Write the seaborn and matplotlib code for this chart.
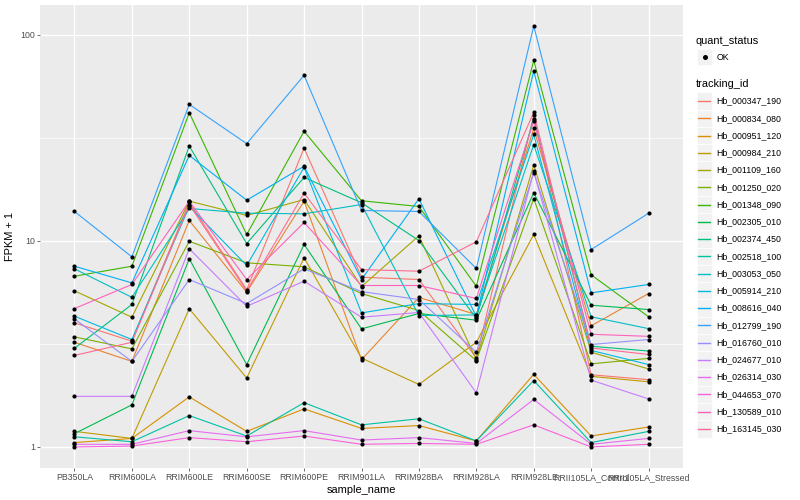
import pandas as pd
import matplotlib
matplotlib.use("Agg")
import matplotlib.pyplot as plt
from matplotlib.patches import Rectangle
from matplotlib.lines import Line2D
from matplotlib.ticker import NullFormatter
import numpy as np
import seaborn as sns

# samples on the x axis
samples = ["PB350LA", "RRIM600LA", "RRIM600LE", "RRIM600SE", "RRIM600PE", "RRIM901LA",
           "RRIM928BA", "RRIM928LA", "RRIM928LE", "RRII105LA_Control", "RRII105LA_Stressed"]

tracking_ids = ["Hb_000347_190", "Hb_000834_080", "Hb_000951_120", "Hb_000984_210",
                "Hb_001109_160", "Hb_001250_020", "Hb_001348_090", "Hb_002305_010",
                "Hb_002374_450", "Hb_002518_100", "Hb_003053_050", "Hb_005914_210",
                "Hb_008616_040", "Hb_012799_190", "Hb_016760_010", "Hb_024677_010",
                "Hb_026314_030", "Hb_044653_070", "Hb_130589_010", "Hb_163145_030"]

# FPKM + 1 per gene
hb_000347_190 = [4.00, 3.26, 15.35, 5.80, 28.15, 6.66, 6.49, 2.70, 40.7, 2.24, 2.12]
hb_000834_080 = [3.22, 2.60, 12.55, 5.63, 15.57, 2.65, 5.31, 4.39, 35.1, 3.87, 5.55]
hb_000951_120 = [1.05, 1.10, 1.75, 1.19, 1.53, 1.23, 1.27, 1.07, 2.25, 1.13, 1.25]
hb_000984_210 = [1.19, 1.10, 4.68, 2.16, 8.27, 2.70, 2.01, 3.22, 10.73, 2.20, 2.07]
hb_001109_160 = [5.72, 4.26, 15.57, 13.27, 15.86, 6.00, 10.58, 2.65, 23.38, 2.88, 2.39]
hb_001250_020 = [3.42, 2.99, 9.95, 7.82, 7.48, 5.55, 4.59, 2.62, 16.04, 2.53, 2.69]
hb_001348_090 = [6.73, 7.53, 41.8, 10.73, 34.0, 15.64, 14.67, 6.02, 75.0, 6.84, 4.28]
hb_002305_010 = [1.16, 1.60, 8.18, 2.51, 9.60, 3.74, 4.44, 4.12, 17.10, 4.87, 4.64]
hb_002374_450 = [3.01, 4.91, 28.8, 9.70, 20.29, 15.30, 10.03, 4.20, 39.2, 3.08, 2.92]
hb_002518_100 = [1.12, 1.06, 1.42, 1.13, 1.64, 1.28, 1.37, 1.07, 2.10, 1.05, 1.19]
hb_003053_050 = [7.31, 5.32, 14.35, 13.61, 13.52, 15.0, 4.34, 4.37, 29.3, 4.28, 3.75]
hb_005914_210 = [4.31, 3.32, 14.67, 7.59, 22.7, 4.47, 4.96, 4.91, 32.8, 2.94, 2.51]
hb_008616_040 = [7.53, 6.25, 25.95, 15.74, 23.0, 6.49, 15.99, 4.29, 66.6, 5.59, 6.14]
hb_012799_190 = [13.88, 8.36, 45.9, 29.6, 63.5, 14.03, 13.88, 7.34, 110.1, 9.07, 13.6]
hb_016760_010 = [4.18, 2.60, 6.49, 4.96, 7.31, 5.67, 5.19, 2.88, 21.4, 3.14, 3.32]
hb_024677_010 = [1.76, 1.76, 9.15, 4.81, 6.37, 4.26, 4.49, 1.83, 21.8, 2.11, 1.71]
hb_026314_030 = [1.03, 1.03, 1.20, 1.12, 1.20, 1.08, 1.11, 1.04, 1.70, 1.03, 1.10]
hb_044653_070 = [1.00, 1.01, 1.11, 1.06, 1.13, 1.03, 1.04, 1.03, 1.28, 1.00, 1.03]
hb_130589_010 = [4.69, 6.14, 15.57, 6.49, 12.27, 6.07, 6.07, 5.25, 38.1, 3.52, 3.44]
hb_163145_030 = [2.78, 3.22, 15.0, 5.71, 17.02, 7.25, 7.12, 9.89, 41.96, 3.02, 2.81]

fpkm = [hb_000347_190, hb_000834_080, hb_000951_120, hb_000984_210, hb_001109_160,
        hb_001250_020, hb_001348_090, hb_002305_010, hb_002374_450, hb_002518_100,
        hb_003053_050, hb_005914_210, hb_008616_040, hb_012799_190, hb_016760_010,
        hb_024677_010, hb_026314_030, hb_044653_070, hb_130589_010, hb_163145_030]

# ggplot default hue palette for 20 levels
colors = ["#F8766D", "#EA8331", "#D89000", "#C09B00", "#A3A500", "#7CAE00", "#39B600",
          "#00BB4E", "#00BF7D", "#00C1A3", "#00BFC4", "#00BAE0", "#00B0F6", "#35A2FF",
          "#9590FF", "#C77CFF", "#E76BF3", "#FA62DB", "#FF62BC", "#FF6C91"]

rows = []
for tid, vals in zip(tracking_ids, fpkm):
    for s, v in zip(samples, vals):
        rows.append({"tracking_id": tid, "sample_name": s, "fpkm1": v, "quant_status": "OK"})
df = pd.DataFrame(rows)

plt.rcParams['font.family'] = ['Liberation Sans', 'DejaVu Sans']

W, H = 800, 500
fig = plt.figure(figsize=(8, 5), dpi=100)
ax = fig.add_axes([40 / W, 1 - 468 / H, 643 / W, 463 / H])
ax.set_facecolor('#EBEBEB')

sns.lineplot(data=df, x='sample_name', y='fpkm1', hue='tracking_id', hue_order=tracking_ids,
             palette=colors, estimator=None, sort=False, lw=0.8, legend=False, ax=ax)
sns.scatterplot(data=df, x='sample_name', y='fpkm1', color='black', s=9, linewidth=0,
                legend=False, ax=ax, zorder=3)

ax.set_yscale('log')
lo = np.log10(df['fpkm1'].min())
hi = np.log10(df['fpkm1'].max())
pad = 0.05 * (hi - lo)
ax.set_ylim(10 ** (lo - pad), 10 ** (hi + pad))
ax.set_xlim(-0.6, len(samples) - 0.4)

ax.set_yticks([1, 10, 100])
ax.set_yticklabels(['1', '10', '100'])
ax.set_yticks([10 ** 0.5, 10 ** 1.5], minor=True)
ax.yaxis.set_minor_formatter(NullFormatter())
ax.tick_params(which='minor', length=0)
ax.tick_params(which='major', length=2.0, width=0.5, color='#333333', labelsize=6.3,
               labelcolor='#4D4D4D', pad=1.5)
ax.grid(which='major', color='white', lw=1.0)
ax.grid(which='minor', axis='y', color='white', lw=0.5)
ax.set_axisbelow(True)
for sp in ax.spines.values():
    sp.set_visible(False)

ax.set_xlabel('sample_name', fontsize=7.9, labelpad=2)
ax.set_ylabel('FPKM + 1', fontsize=7.9, labelpad=4)

# legend drawn by hand to look like ggplot's guide boxes
def fx(x):
    return x / W

def fy(y):
    return 1 - y / H

fig.text(fx(696), fy(40.7), 'quant_status', fontsize=7.9, va='center', ha='left')
fig.add_artist(Rectangle((fx(697), fy(65)), 14.5 / W, 15.7 / H, transform=fig.transFigure,
                         facecolor='#F2F2F2', edgecolor='white', lw=0.5, zorder=1))
fig.add_artist(Line2D([fx(704.5)], [fy(57)], marker='o', color='black', markersize=2.6,
                      transform=fig.transFigure, zorder=5))
fig.text(fx(716.5), fy(57), 'OK', fontsize=6.3, va='center', ha='left')

fig.text(fx(696), fy(84), 'tracking_id', fontsize=7.9, va='center', ha='left')
step = 17.26
for i, (tid, c) in enumerate(zip(tracking_ids, colors)):
    yc = 101 + i * step
    fig.add_artist(Rectangle((fx(697), fy(yc + step / 2)), 14.5 / W, step / H,
                             transform=fig.transFigure, facecolor='#F2F2F2',
                             edgecolor='white', lw=0.5, zorder=1))
    fig.add_artist(Line2D([fx(698), fx(710)], [fy(yc), fy(yc)], color=c, lw=1.0,
                          transform=fig.transFigure, zorder=5))
    fig.text(fx(716.5), fy(yc), tid, fontsize=6.3, va='center', ha='left')

fig.savefig('out.png', dpi=100)
